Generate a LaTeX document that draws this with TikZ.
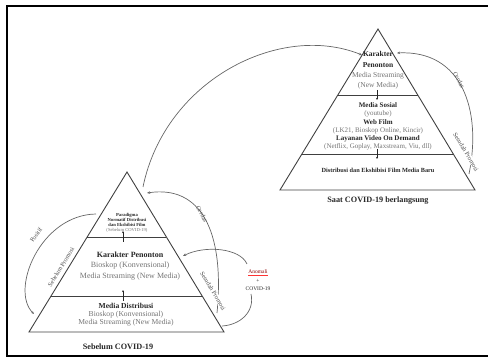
\documentclass[tikz,border=0pt]{standalone}
\usepackage{fontspec}
\setmainfont{Liberation Serif}
\usetikzlibrary{arrows.meta,positioning,calc}

\begin{document}
\begin{tikzpicture}[x=1pt, y=-1pt,
          pyr/.style={draw=black!75, line width=0.9pt},
          sect/.style={draw=black!75, line width=0.8pt},
          txt/.style={align=center, inner sep=0pt, text=black!85},
          pyrcaption/.style={inner sep=0pt, font=\fontsize{8.2}{10}\selectfont\bfseries, text=black!85},
          sidelbl/.style={inner sep=0.6pt, fill=white, font=\fontsize{6.3}{7}\selectfont, text=black!70},
          arc/.style={draw=black!60, line width=0.7pt},
          arcto/.style={arc, -{Stealth[length=3.2pt, width=2.6pt]}},
          tick/.style={draw=black!85, line width=0.6pt, -{Stealth[length=2.2pt, width=2pt]}}]

          \useasboundingbox (0,0) rectangle (488,358);
          \draw[line width=1.8pt] (498,6) -- (7,6) -- (7,356) -- (498,356);

          % pyramid before covid
          \coordinate (la) at (127,172);
          \coordinate (ll) at (29,332);
          \coordinate (lr) at (224,332);
          \draw[pyr] (la) -- (ll) -- (lr) -- cycle;
          \draw[sect] ($(la)!0.406!(ll)$) -- ($(la)!0.406!(lr)$);
          \draw[sect] ($(la)!0.775!(ll)$) -- ($(la)!0.775!(lr)$);

          \node[txt, font=\fontsize{4.6}{4.9}\selectfont] (lpar) at (127,223) {\textbf{Paradigma}\\ \textbf{Normatif Distribusi}\\ \textbf{dan Ekshibisi Film}\\ {\color{black!55}(Sebelum COVID-19)}};
          \node[txt, font=\fontsize{8}{10.5}\selectfont] (lkar) at (130,266) {\textbf{Karakter Penonton}\\ {\color{black!55}Bioskop (Konvensional)}\\ {\color{black!55}Media Streaming (New Media)}};
          \node[txt, font=\fontsize{7.6}{7.9}\selectfont] (lmed) at (126,314.5) {\textbf{Media Distribusi}\\ {\color{black!55}Bioskop (Konvensional)}\\ {\color{black!55}Media Streaming (New Media)}};
          \node[pyrcaption] (lcap) at (118,347) {Sebelum COVID-19};

          \coordinate (lt1) at (123,242);
          \coordinate (lt2) at (123,231);
          \coordinate (lt3) at (123,301);
          \coordinate (lt4) at (123,290);
          \draw[tick] (lt1) -- (lt2);
          \draw[tick] (lt3) -- (lt4);

          % pyramid during covid
          \coordinate (ra) at (378,29);
          \coordinate (rl) at (280,190);
          \coordinate (rr) at (475,190);
          \draw[pyr] (ra) -- (rl) -- (rr) -- cycle;
          \draw[sect] ($(ra)!0.41!(rl)$) -- ($(ra)!0.41!(rr)$);
          \draw[sect] ($(ra)!0.776!(rl)$) -- ($(ra)!0.776!(rr)$);

          \node[txt, font=\fontsize{7.5}{10.3}\selectfont] (rkar) at (378,70.5) {\textbf{Karakter}\\ \textbf{Penonton}\\ {\color{black!55}Media Streaming}\\ {\color{black!55}(New Media)}};
          \node[txt, font=\fontsize{7}{8.2}\selectfont] (rmed) at (378,126.5) {\textbf{Media Sosial}\\ {\color{black!55}(youtube)}\\ \textbf{Web Film}\\ {\color{black!55}(LK21, Bioskop Online, Kincir)}\\ \textbf{Layanan Video On Demand}\\ {\color{black!55}(Netflix, Goplay, Maxstream, Viu, dll)}};
          \node[txt, font=\fontsize{6.3}{7}\selectfont\bfseries] (rdis) at (378,170) {Distribusi dan Ekshibisi Film Media Baru};
          \node[pyrcaption] (rcap) at (378,201) {Saat COVID-19 berlangsung};

          \coordinate (rt1) at (377,90);
          \coordinate (rt2) at (377,100);
          \coordinate (rt3) at (377,149);
          \coordinate (rt4) at (377,159);
          \draw[tick] (rt1) -- (rt2);
          \draw[tick] (rt3) -- (rt4);

          % arcs
          \coordinate (bigs) at (143,187);
          \coordinate (bige) at (362,55);
          \draw[arcto] (bigs) .. controls (165,80) and (280,22) .. (bige);

          \coordinate (rcs) at (469,174);
          \coordinate (rce) at (397,53);
          \draw[arcto] (rcs) .. controls (482,110) and (462,50) .. (rce);
          \node[sidelbl, fill=none, rotate=-62] (rcer) at (459,80) {Cerdas};
          \node[sidelbl, rotate=-59] (rsp) at (466,152) {Sesudah Promosi};

          \coordinate (lcs) at (217,313);
          \coordinate (lce) at (147,193);
          \draw[arcto] (lcs) .. controls (225,230) and (200,185) .. (lce);
          \node[sidelbl, fill=none, rotate=-62] (lcer) at (202,214) {Cerdas};
          \node[sidelbl, rotate=-59] (lsp) at (213,291) {Sesudah Promosi};

          \coordinate (lps) at (96,214);
          \coordinate (lpe) at (34,314);
          \draw[arcto] (lps) .. controls (40,215) and (10,290) .. (lpe);
          \node[sidelbl, fill=none, rotate=55] (lpos) at (36,235) {Positif};
          \node[sidelbl, rotate=58.5] (lsb) at (61,267) {Sebelum Promosi};

          % anomali
          \node[txt, font=\fontsize{5.5}{6}\selectfont, text=red!55!black] (anom) at (258,272) {Anomali};
          \draw[red!80, line width=0.5pt] ([yshift=-1pt]anom.south west) -- ([yshift=-1pt]anom.south east);
          \node[txt, font=\fontsize{5.5}{6}\selectfont] (plus) at (258,281) {+};
          \node[txt, font=\fontsize{5.5}{6}\selectfont] (acov) at (258,289) {COVID-19};

          \coordinate (aus) at (247,264);
          \coordinate (aue) at (183,256);
          \draw[arcto] (aus) .. controls (240,248) and (205,245) .. (aue);
          \coordinate (ads) at (251,294);
          \coordinate (ade) at (222,326);
          \draw[arc] (ads) .. controls (255,312) and (240,325) .. (ade);
        \end{tikzpicture}
\end{document}
